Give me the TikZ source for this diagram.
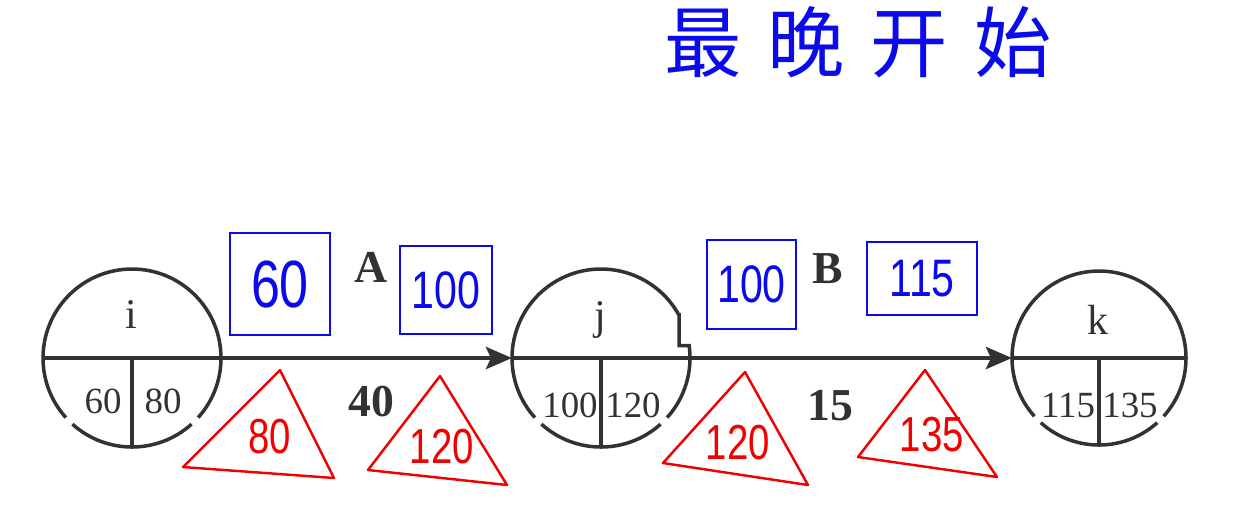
\documentclass[tikz,border=0pt]{standalone}
\usepackage{fontspec}
\setmainfont{Liberation Serif}
\newfontfamily\handfont[FakeStretch=0.78]{Liberation Sans}
\newfontfamily\cjkfont{Noto Sans CJK SC}
\usetikzlibrary{arrows.meta}
\definecolor{penblue}{RGB}{10,10,235}
\definecolor{penred}{RGB}{240,0,0}
\definecolor{ink}{RGB}{50,50,50}

\begin{document}
\begin{tikzpicture}[
		evt/.style={circle, minimum size=1.78cm, inner sep=0pt, outer sep=0pt},
		ring/.style={ink, line width=1pt},
		axis/.style={ink, line width=1.3pt},
		act/.style={ink, line width=1.3pt, -{Stealth[length=0.26cm,width=0.22cm,inset=0.05cm]}},
		num/.style={text=ink, font=\fontsize{10.5}{12}\selectfont, inner sep=1pt},
		tag/.style={text=ink, font=\bfseries\fontsize{13}{14}\selectfont},
		bluebox/.style={draw=penblue, line width=0.8pt, text=penblue, inner sep=0pt, font=\handfont\fontsize{15}{15}\selectfont},
		redtri/.style={draw=penred, line width=0.7pt, line join=round},
		redtext/.style={text=penred, font=\handfont\fontsize{14}{14}\selectfont}
	]
		\useasboundingbox (0,0) rectangle (12.56,-5.21);

		\node[text=penblue, font=\cjkfont\fontsize{22}{22}\selectfont] (title) at (8.58,-0.42) {最\hspace{0.26cm}晚\hspace{0.26cm}开\hspace{0.26cm}始};

		\node[evt] (i) at (1.32,-3.58) {};
		\node[evt] (j) at (6.01,-3.58) {};
		\node[evt, minimum size=1.74cm] (k) at (10.99,-3.58) {};

		\draw[ring] (i.-42) arc[start angle=-42, end angle=222, radius=0.89];
		\draw[ring] (i.228) arc[start angle=228, end angle=312, radius=0.89];
		\draw[ring] (j.-42) arc[start angle=-42, end angle=8, radius=0.89] -- ++(-0.10,0) |- (j.29) arc[start angle=29, end angle=222, radius=0.89];
		\draw[ring] (j.228) arc[start angle=228, end angle=312, radius=0.89];
		\draw[ring] (k.-42) arc[start angle=-42, end angle=222, radius=0.87];
		\draw[ring] (k.228) arc[start angle=228, end angle=312, radius=0.87];

		\draw[axis] (i.west) -- (i.east);
		\draw[axis] (j.west) -- (j.east);
		\draw[axis] (k.west) -- (k.east);
		\draw[ring] (i.center) -- (i.south);
		\draw[ring] (j.center) -- (j.south);
		\draw[ring] (k.center) -- (k.south);

		\draw[act] (i.east) -- (j.west);
		\draw[act] (j.east) -- (k.west);

		\node[num, font=\fontsize{12}{12}\selectfont] (iname) at (1.31,-3.15) {i};
		\node[num] (ies) at (1.03,-4.01) {60};
		\node[num] (ils) at (1.63,-4.01) {80};
		\node[num, font=\fontsize{12}{12}\selectfont] (jname) at (6.00,-3.20) {j};
		\node[num] (jes) at (5.70,-4.05) {100};
		\node[num] (jls) at (6.33,-4.05) {120};
		\node[num, font=\fontsize{12}{12}\selectfont] (kname) at (10.98,-3.20) {k};
		\node[num] (kes) at (10.68,-4.05) {115};
		\node[num] (kls) at (11.30,-4.05) {135};

		\node[tag] (actA) at (3.71,-2.67) {A};
		\node[tag] (durA) at (3.71,-4.02) {40};
		\node[tag] (actB) at (8.28,-2.69) {B};
		\node[tag] (durB) at (8.30,-4.06) {15};

		\node[bluebox, minimum width=1.00cm, minimum height=1.02cm, font=\handfont\fontsize{19}{19}\selectfont] (ls1) at (2.80,-2.84) {60};
		\node[bluebox, minimum width=0.92cm, minimum height=0.88cm] (lf1) at (4.46,-2.90) {100};
		\node[bluebox, minimum width=0.89cm, minimum height=0.89cm] (ls2) at (7.515,-2.845) {100};
		\node[bluebox, minimum width=1.10cm, minimum height=0.73cm] (lf2) at (9.22,-2.785) {115};

		\draw[redtri] (2.80,-3.70) -- (1.83,-4.67) -- (3.34,-4.78) -- cycle;
		\draw[redtri] (4.40,-3.76) -- (3.68,-4.70) -- (5.07,-4.85) -- cycle;
		\draw[redtri] (7.45,-3.72) -- (6.63,-4.63) -- (8.08,-4.85) -- cycle;
		\draw[redtri] (9.25,-3.70) -- (8.58,-4.57) -- (9.97,-4.77) -- cycle;

		\node[redtext] (ts1) at (2.70,-4.37) {80};
		\node[redtext] (tf1) at (4.42,-4.47) {120};
		\node[redtext] (ts2) at (7.38,-4.43) {120};
		\node[redtext] (tf2) at (9.32,-4.35) {135};
\end{tikzpicture}
\end{document}
